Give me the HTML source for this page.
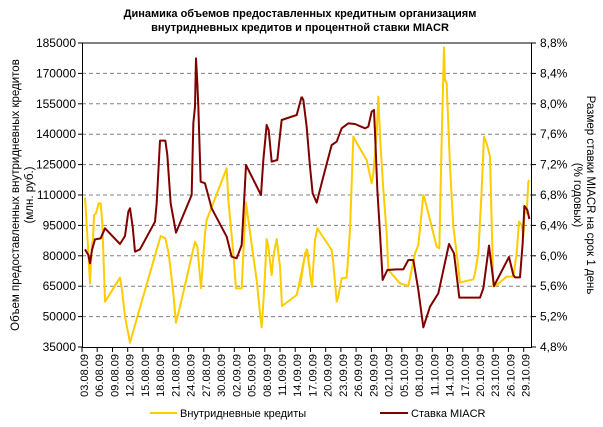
<!DOCTYPE html>
<html><head><meta charset="utf-8"><style>
html,body{margin:0;padding:0;background:#fff;}
svg{display:block;font-family:"Liberation Sans",sans-serif;}
</style></head><body>
<svg width="603" height="427" viewBox="0 0 603 427" xmlns="http://www.w3.org/2000/svg">
<rect width="603" height="427" fill="#fff"/>
<text x="300" y="17" font-size="11" font-weight="bold" text-anchor="middle">Динамика объемов предоставленных кредитным организациям</text>
<text x="300" y="31" font-size="11" font-weight="bold" text-anchor="middle">внутридневных кредитов и процентной ставки MIACR</text>
<g stroke="#808080" stroke-dasharray="4,3" stroke-width="1">
<line x1="82" x2="532" y1="73.4" y2="73.4"/><line x1="82" x2="532" y1="103.8" y2="103.8"/>
<line x1="82" x2="532" y1="134.2" y2="134.2"/><line x1="82" x2="532" y1="164.6" y2="164.6"/>
<line x1="82" x2="532" y1="195" y2="195"/><line x1="82" x2="532" y1="225.4" y2="225.4"/>
<line x1="82" x2="532" y1="255.8" y2="255.8"/><line x1="82" x2="532" y1="286.2" y2="286.2"/>
<line x1="82" x2="532" y1="316.6" y2="316.6"/>
</g>
<g stroke="#000" stroke-width="1">
<line x1="82.5" y1="43" x2="82.5" y2="347.5"/><line x1="531.5" y1="43" x2="531.5" y2="347.5"/>
<line x1="82" y1="43" x2="532" y2="43"/><line x1="82" y1="347.5" x2="532" y2="347.5"/>
</g>
<g stroke="#000">
<line x1="78" x2="82" y1="43" y2="43"/><line x1="78" x2="82" y1="73.4" y2="73.4"/><line x1="78" x2="82" y1="103.8" y2="103.8"/><line x1="78" x2="82" y1="134.2" y2="134.2"/><line x1="78" x2="82" y1="164.6" y2="164.6"/><line x1="78" x2="82" y1="195" y2="195"/><line x1="78" x2="82" y1="225.4" y2="225.4"/><line x1="78" x2="82" y1="255.8" y2="255.8"/><line x1="78" x2="82" y1="286.2" y2="286.2"/><line x1="78" x2="82" y1="316.6" y2="316.6"/><line x1="78" x2="82" y1="347" y2="347"/>
<line x1="532" x2="536" y1="43" y2="43"/><line x1="532" x2="536" y1="73.4" y2="73.4"/><line x1="532" x2="536" y1="103.8" y2="103.8"/><line x1="532" x2="536" y1="134.2" y2="134.2"/><line x1="532" x2="536" y1="164.6" y2="164.6"/><line x1="532" x2="536" y1="195" y2="195"/><line x1="532" x2="536" y1="225.4" y2="225.4"/><line x1="532" x2="536" y1="255.8" y2="255.8"/><line x1="532" x2="536" y1="286.2" y2="286.2"/><line x1="532" x2="536" y1="316.6" y2="316.6"/><line x1="532" x2="536" y1="347" y2="347"/>
</g>
<g font-size="12" text-anchor="end">
<text x="76" y="47">185000</text><text x="76" y="77.4">170000</text><text x="76" y="107.8">155000</text><text x="76" y="138.2">140000</text><text x="76" y="168.6">125000</text><text x="76" y="199">110000</text><text x="76" y="229.4">95000</text><text x="76" y="259.8">80000</text><text x="76" y="290.2">65000</text><text x="76" y="320.6">50000</text><text x="76" y="351">35000</text>
</g>
<g font-size="12">
<text x="540" y="47">8,8%</text><text x="540" y="77.4">8,4%</text><text x="540" y="107.8">8,0%</text><text x="540" y="138.2">7,6%</text><text x="540" y="168.6">7,2%</text><text x="540" y="199">6,8%</text><text x="540" y="229.4">6,4%</text><text x="540" y="259.8">6,0%</text><text x="540" y="290.2">5,6%</text><text x="540" y="320.6">5,2%</text><text x="540" y="351">4,8%</text>
</g>
<g stroke="#000">
<line x1="82" x2="82" y1="347" y2="352"/><line x1="97.2" x2="97.2" y1="347" y2="352"/><line x1="112.5" x2="112.5" y1="347" y2="352"/><line x1="127.7" x2="127.7" y1="347" y2="352"/><line x1="142.9" x2="142.9" y1="347" y2="352"/><line x1="158.2" x2="158.2" y1="347" y2="352"/><line x1="173.4" x2="173.4" y1="347" y2="352"/><line x1="188.6" x2="188.6" y1="347" y2="352"/><line x1="203.8" x2="203.8" y1="347" y2="352"/><line x1="219.1" x2="219.1" y1="347" y2="352"/><line x1="234.3" x2="234.3" y1="347" y2="352"/><line x1="249.5" x2="249.5" y1="347" y2="352"/><line x1="264.8" x2="264.8" y1="347" y2="352"/><line x1="280" x2="280" y1="347" y2="352"/><line x1="295.2" x2="295.2" y1="347" y2="352"/><line x1="310.5" x2="310.5" y1="347" y2="352"/><line x1="325.7" x2="325.7" y1="347" y2="352"/><line x1="340.9" x2="340.9" y1="347" y2="352"/><line x1="356.1" x2="356.1" y1="347" y2="352"/><line x1="371.4" x2="371.4" y1="347" y2="352"/><line x1="386.6" x2="386.6" y1="347" y2="352"/><line x1="401.8" x2="401.8" y1="347" y2="352"/><line x1="417.1" x2="417.1" y1="347" y2="352"/><line x1="432.3" x2="432.3" y1="347" y2="352"/><line x1="447.5" x2="447.5" y1="347" y2="352"/><line x1="462.8" x2="462.8" y1="347" y2="352"/><line x1="478" x2="478" y1="347" y2="352"/><line x1="493.2" x2="493.2" y1="347" y2="352"/><line x1="508.4" x2="508.4" y1="347" y2="352"/><line x1="523.7" x2="523.7" y1="347" y2="352"/>
</g>
<g font-size="11" text-anchor="end">
<text transform="translate(88,354) rotate(-90)">03.08.09</text>
<text transform="translate(103.2,354) rotate(-90)">06.08.09</text>
<text transform="translate(118.5,354) rotate(-90)">09.08.09</text>
<text transform="translate(133.7,354) rotate(-90)">12.08.09</text>
<text transform="translate(148.9,354) rotate(-90)">15.08.09</text>
<text transform="translate(164.2,354) rotate(-90)">18.08.09</text>
<text transform="translate(179.4,354) rotate(-90)">21.08.09</text>
<text transform="translate(194.6,354) rotate(-90)">24.08.09</text>
<text transform="translate(209.8,354) rotate(-90)">27.08.09</text>
<text transform="translate(225.1,354) rotate(-90)">30.08.09</text>
<text transform="translate(240.3,354) rotate(-90)">02.09.09</text>
<text transform="translate(255.5,354) rotate(-90)">05.09.09</text>
<text transform="translate(270.8,354) rotate(-90)">08.09.09</text>
<text transform="translate(286,354) rotate(-90)">11.09.09</text>
<text transform="translate(301.2,354) rotate(-90)">14.09.09</text>
<text transform="translate(316.5,354) rotate(-90)">17.09.09</text>
<text transform="translate(331.7,354) rotate(-90)">20.09.09</text>
<text transform="translate(346.9,354) rotate(-90)">23.09.09</text>
<text transform="translate(362.1,354) rotate(-90)">26.09.09</text>
<text transform="translate(377.4,354) rotate(-90)">29.09.09</text>
<text transform="translate(392.6,354) rotate(-90)">02.10.09</text>
<text transform="translate(407.8,354) rotate(-90)">05.10.09</text>
<text transform="translate(423.1,354) rotate(-90)">08.10.09</text>
<text transform="translate(438.3,354) rotate(-90)">11.10.09</text>
<text transform="translate(453.5,354) rotate(-90)">14.10.09</text>
<text transform="translate(468.8,354) rotate(-90)">17.10.09</text>
<text transform="translate(484,354) rotate(-90)">20.10.09</text>
<text transform="translate(499.2,354) rotate(-90)">23.10.09</text>
<text transform="translate(514.4,354) rotate(-90)">26.10.09</text>
<text transform="translate(529.7,354) rotate(-90)">29.10.09</text>
</g>
<text transform="translate(19,195) rotate(-90)" font-size="11.5" text-anchor="middle">Объем предоставленных внутридневных кредитов</text>
<text transform="translate(33,195) rotate(-90)" font-size="11.5" text-anchor="middle">(млн. руб.)</text>
<text transform="translate(587,195) rotate(90)" font-size="11.5" text-anchor="middle">Размер ставки MIACR на срок 1 день</text>
<text transform="translate(574,195) rotate(90)" font-size="11.5" text-anchor="middle">(% годовых)</text>
<g fill="none" stroke-width="2" stroke-linejoin="round">
<polyline vector-effect="non-scaling-stroke" stroke="#FFCC00" transform="translate(80,40) scale(0.33333)" points="15,473 18,520 24,620 30,730 36,610 39,600 42,525 48,520 56,490 62,490 67,550 75,785 120,713 126,750 135,830 150,908 175,820 242,588 256,595 266,640 280,760 288,848 300,800 345,605 352,620 363,745 375,580 380,540 440,385 445,480 460,640 468,745 485,745 492,600 498,488 505,540 520,650 530,720 540,820 545,862 550,790 555,700 560,597 565,620 575,705 580,650 590,597 600,680 606,798 650,765 660,720 670,670 680,628 690,690"/>
<polyline vector-effect="non-scaling-stroke" stroke="#FFCC00" transform="translate(300,40) scale(0.33333)" points="0,740 15,640 22,630 30,700 36,740 45,600 52,565 95,630 100,670 110,785 115,770 125,715 140,713 150,570 155,430 160,290 165,300 200,360 215,430 220,400 230,280 235,170 240,290 250,450 260,580 265,690 300,730 325,738 335,690 345,640 355,615 370,465 375,480 410,620 418,625 425,300 432,22 435,120 440,130 450,380 460,560 470,640 480,728 490,725 520,718 525,700 535,640 545,450 552,290 560,310 570,350 580,740 590,735 620,710 640,710 650,640 657,545 665,555 670,590 675,500 680,520 685,425 688,420"/>
<polyline vector-effect="non-scaling-stroke" stroke="#800000" transform="translate(80,40) scale(0.33333)" points="15,628 25,645 30,670 36,630 45,598 62,595 75,565 120,612 135,588 145,515 150,505 158,560 165,635 180,628 225,545 230,490 240,302 256,302 262,345 272,490 288,578 335,465 340,250 345,200 348,55 352,130 355,200 362,425 375,430 395,505 440,590 455,650 470,655 485,615 492,490 498,375 543,465 550,360 560,255 566,270 575,365 592,360 600,285 605,240 650,225 665,170"/>
<polyline vector-effect="non-scaling-stroke" stroke="#800000" transform="translate(300,40) scale(0.33333)" points="5,170 10,180 20,260 30,380 38,460 50,488 70,410 95,315 110,305 125,265 145,250 165,252 195,265 205,260 215,215 222,210 226,300 232,450 240,580 248,720 262,690 290,688 310,688 325,660 340,660 355,750 370,862 390,800 415,760 447,612 462,640 478,773 540,773 550,745 567,617 582,738 627,651 640,705 645,712 660,712 668,610 673,498 682,510 688,537"/>
</g>
<line x1="150" y1="413" x2="177" y2="413" stroke="#FFCC00" stroke-width="2"/>
<text x="180" y="417" font-size="11">Внутридневные кредиты</text>
<line x1="380" y1="413" x2="408" y2="413" stroke="#800000" stroke-width="2"/>
<text x="411" y="417" font-size="11">Ставка MIACR</text>
</svg>
</body></html>
